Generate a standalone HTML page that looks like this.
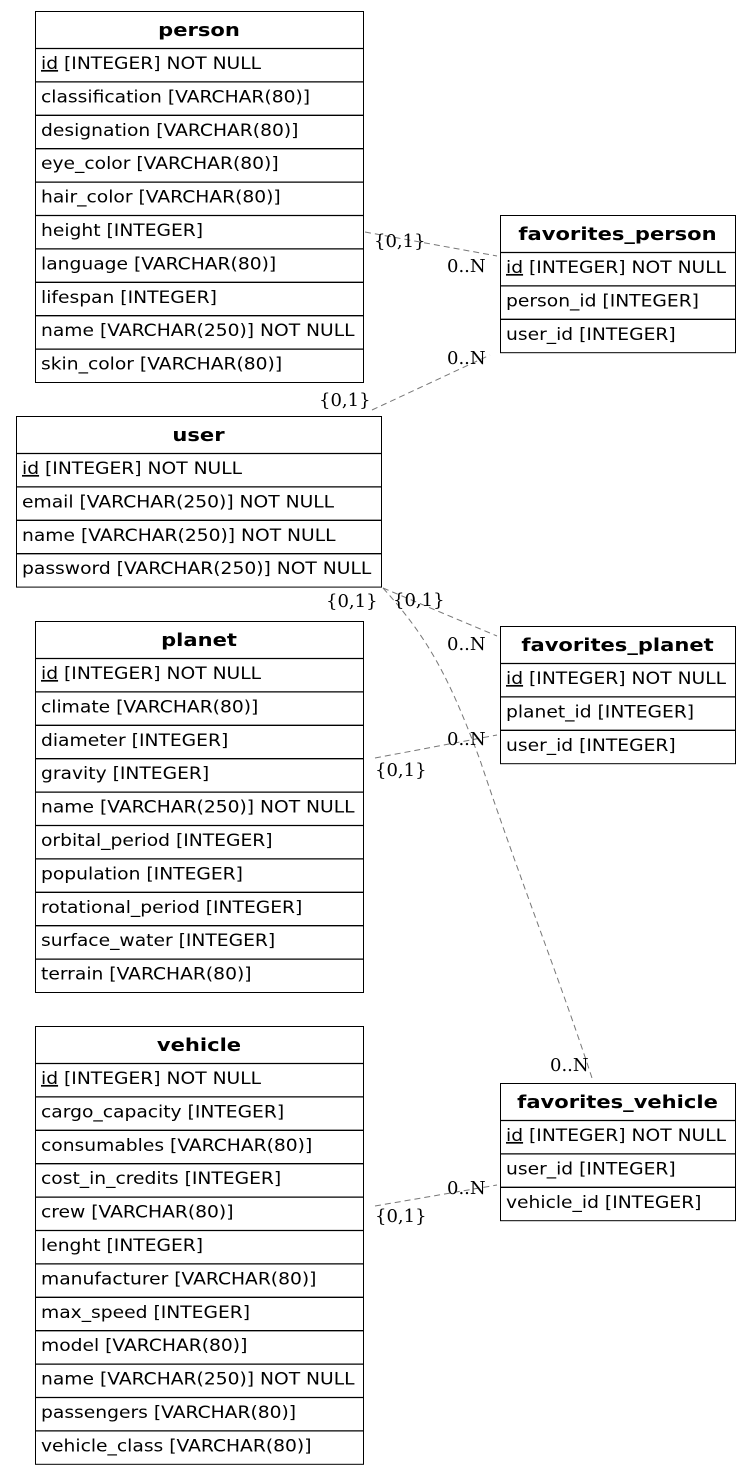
<!DOCTYPE html>
<html><head><meta charset="utf-8"><style>
html,body{margin:0;padding:0;background:#fff;}
svg{display:block;}
.t{font-family:"DejaVu Sans","Liberation Sans",sans-serif;font-size:17px;fill:#000;}
.h{font-weight:bold;font-size:18px;}
.l{font-family:"DejaVu Serif","Liberation Serif",serif;font-size:18px;fill:#000;}
.e{fill:none;stroke:#777;stroke-dasharray:6,4;stroke-width:1;}
</style></head><body>
<svg id="s" width="751" height="1475" xmlns="http://www.w3.org/2000/svg">
<path class="e" d="M365,232 L497,256"/>
<path class="e" d="M372,410 L490,355"/>
<path class="e" d="M383,588 L497,636"/>
<path class="e" d="M375,758 L497,735"/>
<path class="e" d="M383,588 C430,640 450,680 480,760 C520,880 560,980 592,1078"/>
<path class="e" d="M375,1206 L497,1185"/>
<text class="l" x="374" y="247">{0,1}</text>
<text class="l" x="447" y="272">0..N</text>
<text class="l" x="319" y="406">{0,1}</text>
<text class="l" x="447" y="364">0..N</text>
<text class="l" x="326" y="607">{0,1}</text>
<text class="l" x="393" y="606">{0,1}</text>
<text class="l" x="447" y="650">0..N</text>
<text class="l" x="375" y="776">{0,1}</text>
<text class="l" x="447" y="745">0..N</text>
<text class="l" x="550" y="1071">0..N</text>
<text class="l" x="375" y="1222">{0,1}</text>
<text class="l" x="447" y="1194">0..N</text>
</svg>
<script>
var s=document.getElementById('s'),NS="http://www.w3.org/2000/svg";
function el(n,a,t){var e=document.createElementNS(NS,n);for(var k in a)e.setAttribute(k,a[k]);if(t!=null)e.textContent=t;s.appendChild(e);return e;}
function tbl(x,y,w,name,rows){
 var hh=37,rh=33.4,H=hh+rows.length*rh;
 el('rect',{x:x+0.5,y:y+0.5,width:w,height:H,fill:'#fff',stroke:'#000','stroke-width':1});
 el('text',{transform:'translate('+(x+w/2)+','+(y+25)+') scale(1.17,1)','text-anchor':'middle','class':'t h'},name);
 for(var i=0;i<rows.length;i++){
  var ry=y+hh+i*rh;
  el('line',{x1:x,y1:ry+0.5,x2:x+w,y2:ry+0.5,stroke:'#000','stroke-width':1.3});
  var r=rows[i];
  var tr='translate('+(x+6)+','+(ry+21)+') scale(1.1,1)';
  if(r.indexOf('id ')===0){
   var t=el('text',{transform:tr,'class':'t'});
   var u=document.createElementNS(NS,'tspan');u.setAttribute('text-decoration','underline');u.textContent='id';t.appendChild(u);
   t.appendChild(document.createTextNode(r.slice(2)));
  } else el('text',{transform:tr,'class':'t'},r);
 }
}
tbl(35,11,328,'person',['id [INTEGER] NOT NULL','classification [VARCHAR(80)]','designation [VARCHAR(80)]','eye_color [VARCHAR(80)]','hair_color [VARCHAR(80)]','height [INTEGER]','language [VARCHAR(80)]','lifespan [INTEGER]','name [VARCHAR(250)] NOT NULL','skin_color [VARCHAR(80)]']);
tbl(16,416,365,'user',['id [INTEGER] NOT NULL','email [VARCHAR(250)] NOT NULL','name [VARCHAR(250)] NOT NULL','password [VARCHAR(250)] NOT NULL']);
tbl(35,621,328,'planet',['id [INTEGER] NOT NULL','climate [VARCHAR(80)]','diameter [INTEGER]','gravity [INTEGER]','name [VARCHAR(250)] NOT NULL','orbital_period [INTEGER]','population [INTEGER]','rotational_period [INTEGER]','surface_water [INTEGER]','terrain [VARCHAR(80)]']);
tbl(35,1026,328,'vehicle',['id [INTEGER] NOT NULL','cargo_capacity [INTEGER]','consumables [VARCHAR(80)]','cost_in_credits [INTEGER]','crew [VARCHAR(80)]','lenght [INTEGER]','manufacturer [VARCHAR(80)]','max_speed [INTEGER]','model [VARCHAR(80)]','name [VARCHAR(250)] NOT NULL','passengers [VARCHAR(80)]','vehicle_class [VARCHAR(80)]']);
tbl(500,215,235,'favorites_person',['id [INTEGER] NOT NULL','person_id [INTEGER]','user_id [INTEGER]']);
tbl(500,626,235,'favorites_planet',['id [INTEGER] NOT NULL','planet_id [INTEGER]','user_id [INTEGER]']);
tbl(500,1083,235,'favorites_vehicle',['id [INTEGER] NOT NULL','user_id [INTEGER]','vehicle_id [INTEGER]']);
</script>
</body></html>
